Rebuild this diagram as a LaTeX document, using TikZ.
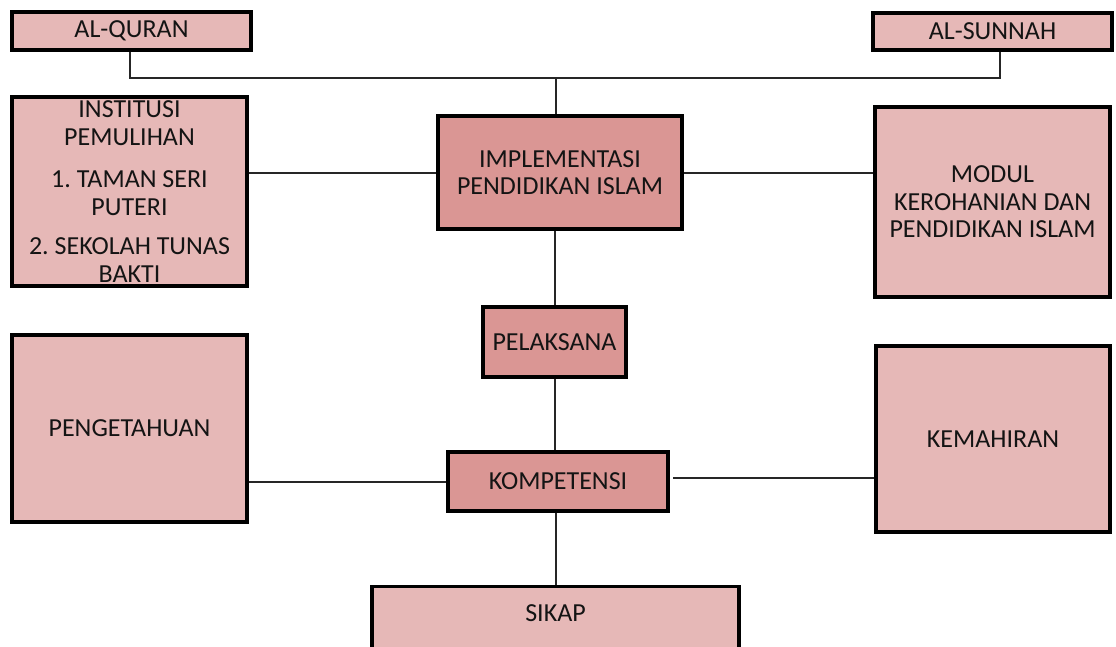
\documentclass[tikz,border=0pt]{standalone}
\usepackage{fontspec}
\setmainfont{Carlito}
\frenchspacing
\definecolor{lightpink}{HTML}{E6B8B7}
\definecolor{darkpink}{HTML}{DA9694}
\definecolor{txt}{HTML}{141414}
\begin{document}
\begin{tikzpicture}[x=1pt,y=-1pt,
  boxbase/.style={draw=black, line width=3.4pt, inner sep=0pt, align=center, text=txt,
    font=\fontsize{26}{27.5}\selectfont},
  lightbox/.style={boxbase, fill=lightpink},
  darkbox/.style={boxbase, fill=darkpink},
  conn/.style={line width=2pt, draw=black!85}]
\clip (0,0) rectangle (1116,646);
\fill[white] (0,0) rectangle (1116,646);
% top sources
\node[lightbox, minimum width=239, minimum height=38] (quran) at (131.5,31) {AL-QURAN};
\node[lightbox, minimum width=239, minimum height=37] (sunnah) at (992.5,31.5) {AL-SUNNAH};
% middle row
\node[lightbox, minimum width=235, minimum height=189] (inst) at (129.5,191.5)
  {INSTITUSI\\PEMULIHAN\\[15pt]1.~TAMAN SERI\\PUTERI\\[12pt]2.~SEKOLAH TUNAS\\BAKTI};
\node[darkbox, minimum width=244, minimum height=113] (impl) at (560,172.5)
  {IMPLEMENTASI\\PENDIDIKAN ISLAM};
\node[lightbox, minimum width=235, minimum height=190] (modul) at (992.5,202)
  {MODUL\\KEROHANIAN DAN\\PENDIDIKAN ISLAM};
% pelaksana
\node[darkbox, minimum width=143, minimum height=70] (pel) at (554.5,342) {PELAKSANA};
% bottom row
\node[lightbox, minimum width=235, minimum height=187] (peng) at (129.5,428.5) {PENGETAHUAN};
\node[darkbox, minimum width=220, minimum height=59] (komp) at (558,481.5) {KOMPETENSI};
\node[lightbox, minimum width=234, minimum height=186] (kem) at (993,439) {KEMAHIRAN};
% sikap (cut off at bottom)
\node[lightbox, minimum width=367, minimum height=90, anchor=north] (sikap) at (555.5,585) {};
\node[text=txt, font=\fontsize{26}{27.5}\selectfont, inner sep=0pt] (sikaptxt) at (555.5,613) {SIKAP};
% junction coordinates
\coordinate (jq) at (130,78);
\coordinate (js) at (1000,78);
\coordinate (jc) at (556,78);
\coordinate (kr) at (673,478);
% connectors
\draw[conn] (jq |- quran.south) -- (jq) -- (js) -- (js |- sunnah.south);
\draw[conn] (jc) -- (jc |- impl.north);
\draw[conn] (inst.east |- impl.west) -- (impl.west);
\draw[conn] (impl.east) -- (modul.west |- impl.east);
\draw[conn] (impl.south -| pel.north) -- (pel.north);
\draw[conn] (pel.south) -- (pel.south |- komp.north);
\draw[conn] (peng.east |- komp.west) -- (komp.west);
\draw[conn] (kr) -- (kem.west |- kr);
\draw[conn] (komp.south -| sikap.north) -- (sikap.north);
\end{tikzpicture}
\end{document}
